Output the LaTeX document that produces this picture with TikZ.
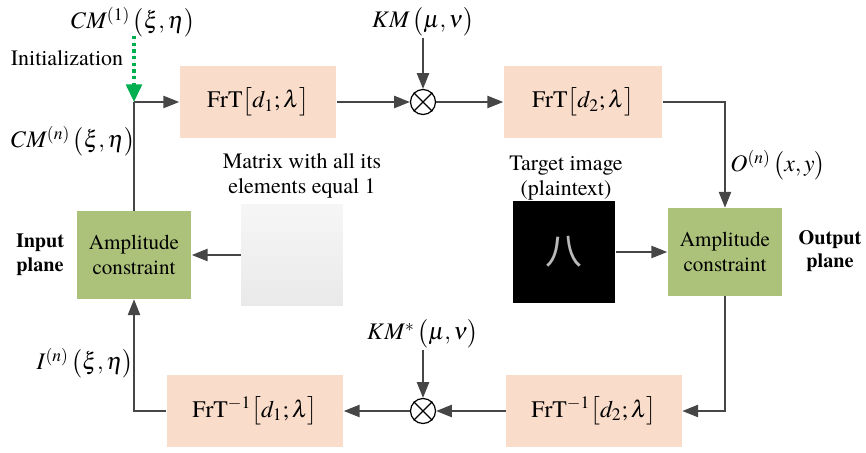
\documentclass[tikz,border=0pt]{standalone}
\usepackage{amsmath}
\usepackage{mathptmx}
\usepackage{fontspec}
\setmainfont{texgyretermes}[Extension=.otf,UprightFont=*-regular,BoldFont=*-bold,ItalicFont=*-italic,BoldItalicFont=*-bolditalic]
\newfontfamily\cjkfont{Noto Sans CJK SC}
\usepackage{tikz}
\usetikzlibrary{shapes.geometric, arrows.meta, positioning, calc}
\definecolor{frtpeach}{RGB}{249,220,202}
\definecolor{ampgreen}{RGB}{172,194,122}
\definecolor{wiregray}{RGB}{70,70,70}
\definecolor{initgreen}{RGB}{0,176,80}

\tikzset{
  frtbox/.style={fill=frtpeach,minimum height=1.46cm,font=\fontsize{13.5}{16}\selectfont},
  ampbox/.style={fill=ampgreen,minimum width=2.3cm,minimum height=1.76cm,align=center,font=\fontsize{12}{14}\selectfont},
  mult/.style={circle,draw=black,line width=0.7pt,minimum size=0.5cm,inner sep=0pt},
  lbl/.style={inner sep=1pt,font=\fontsize{13.5}{16}\selectfont},
  txt/.style={align=center,font=\fontsize{12.5}{14.5}\selectfont},
  wire/.style={draw=wiregray,line width=0.8pt,-{Triangle[length=9pt,width=7pt]}}
}

\begin{document}
\begin{tikzpicture}[x=0.02cm,y=-0.02cm]
\useasboundingbox (0,0) rectangle (866,453);

% top row
\node[frtbox,minimum width=3.14cm] (frta) at (258,102) {FrT$\bigl[d_1;\lambda\bigr]$};
\node[mult] (mta) at (423,102) {};
\draw[line width=0.7pt] (mta.north west) -- (mta.south east) (mta.north east) -- (mta.south west);
\node[frtbox,minimum width=3.18cm] (frtb) at (583,102) {FrT$\bigl[d_2;\lambda\bigr]$};

% middle row
\node[ampbox] (ampl) at (134,255) {Amplitude\\constraint};
\node[ampbox] (ampr) at (725,252) {Amplitude\\constraint};
\node[minimum size=2.04cm,top color=gray!7,bottom color=gray!17] (ones) at (292,255) {};
\node[minimum size=2.06cm,fill=black,text=gray!55,font=\cjkfont\fontsize{21}{21}\selectfont] (target) at (564,252) {八};

% bottom row
\node[frtbox,minimum width=3.54cm] (ifrta) at (255,411) {FrT$^{-1}\bigl[d_1;\lambda\bigr]$};
\node[mult] (mtb) at (423,411) {};
\draw[line width=0.7pt] (mtb.north west) -- (mtb.south east) (mtb.north east) -- (mtb.south west);
\node[frtbox,minimum width=3.52cm] (ifrtb) at (594,411) {FrT$^{-1}\bigl[d_2;\lambda\bigr]$};

% labels
\node[lbl] (cmone) at (133,22) {$CM^{(1)}\,\bigl(\xi,\eta\bigr)$};
\node[txt] (initlbl) at (67,58) {Initialization};
\node[lbl] (cmn) at (73,141) {$CM^{(n)}\,\bigl(\xi,\eta\bigr)$};
\node[lbl] (km) at (423,22) {$KM\,\bigl(\mu,\nu\bigr)$};
\node[lbl] (kmstar) at (423,334) {$KM^{*}\,\bigl(\mu,\nu\bigr)$};
\node[lbl] (on) at (778,165) {$O^{(n)}\,\bigl(x,y\bigr)$};
\node[lbl] (in) at (85,363) {$I^{(n)}\,\bigl(\xi,\eta\bigr)$};
\node[txt] (oneslbl) at (302,176) {Matrix with all its\\elements equal 1};
\node[txt] (targetlbl) at (566,178) {Target image\\(plaintext)};
\node[txt,font=\bfseries\fontsize{11.5}{13.5}\selectfont] (inplane) at (40,255) {Input\\plane};
\node[txt,font=\bfseries\fontsize{11.5}{13.5}\selectfont] (outplane) at (830,251) {Output\\plane};

\coordinate (jn) at (134,102);
\coordinate (initstart) at (134,36);

% connectors
\draw[draw=initgreen,fill=initgreen,line width=1.8pt,dash pattern=on 1.8pt off 2pt,-{Triangle[length=10pt,width=9pt]}] (initstart) -- (jn);
\draw[draw=wiregray,line width=0.8pt] (ampl.north) -- (jn);
\draw[wire] (jn) -- (frta.west);
\draw[wire] (frta.east) -- (mta.west);
\draw[wire] (km.south) -- (mta.north);
\draw[wire] (mta.east) -- (frtb.west);
\draw[wire] (frtb.east) -| (ampr.north);
\draw[wire] (target.east) -- (ampr.west);
\draw[wire] (ampr.south) |- (ifrtb.east);
\draw[wire] (ifrtb.west) -- (mtb.east);
\draw[wire] (kmstar.south) -- (mtb.north);
\draw[wire] (mtb.west) -- (ifrta.east);
\draw[wire] (ifrta.west) -| (ampl.south);
\draw[wire] (ones.west) -- (ampl.east);
\end{tikzpicture}
\end{document}
